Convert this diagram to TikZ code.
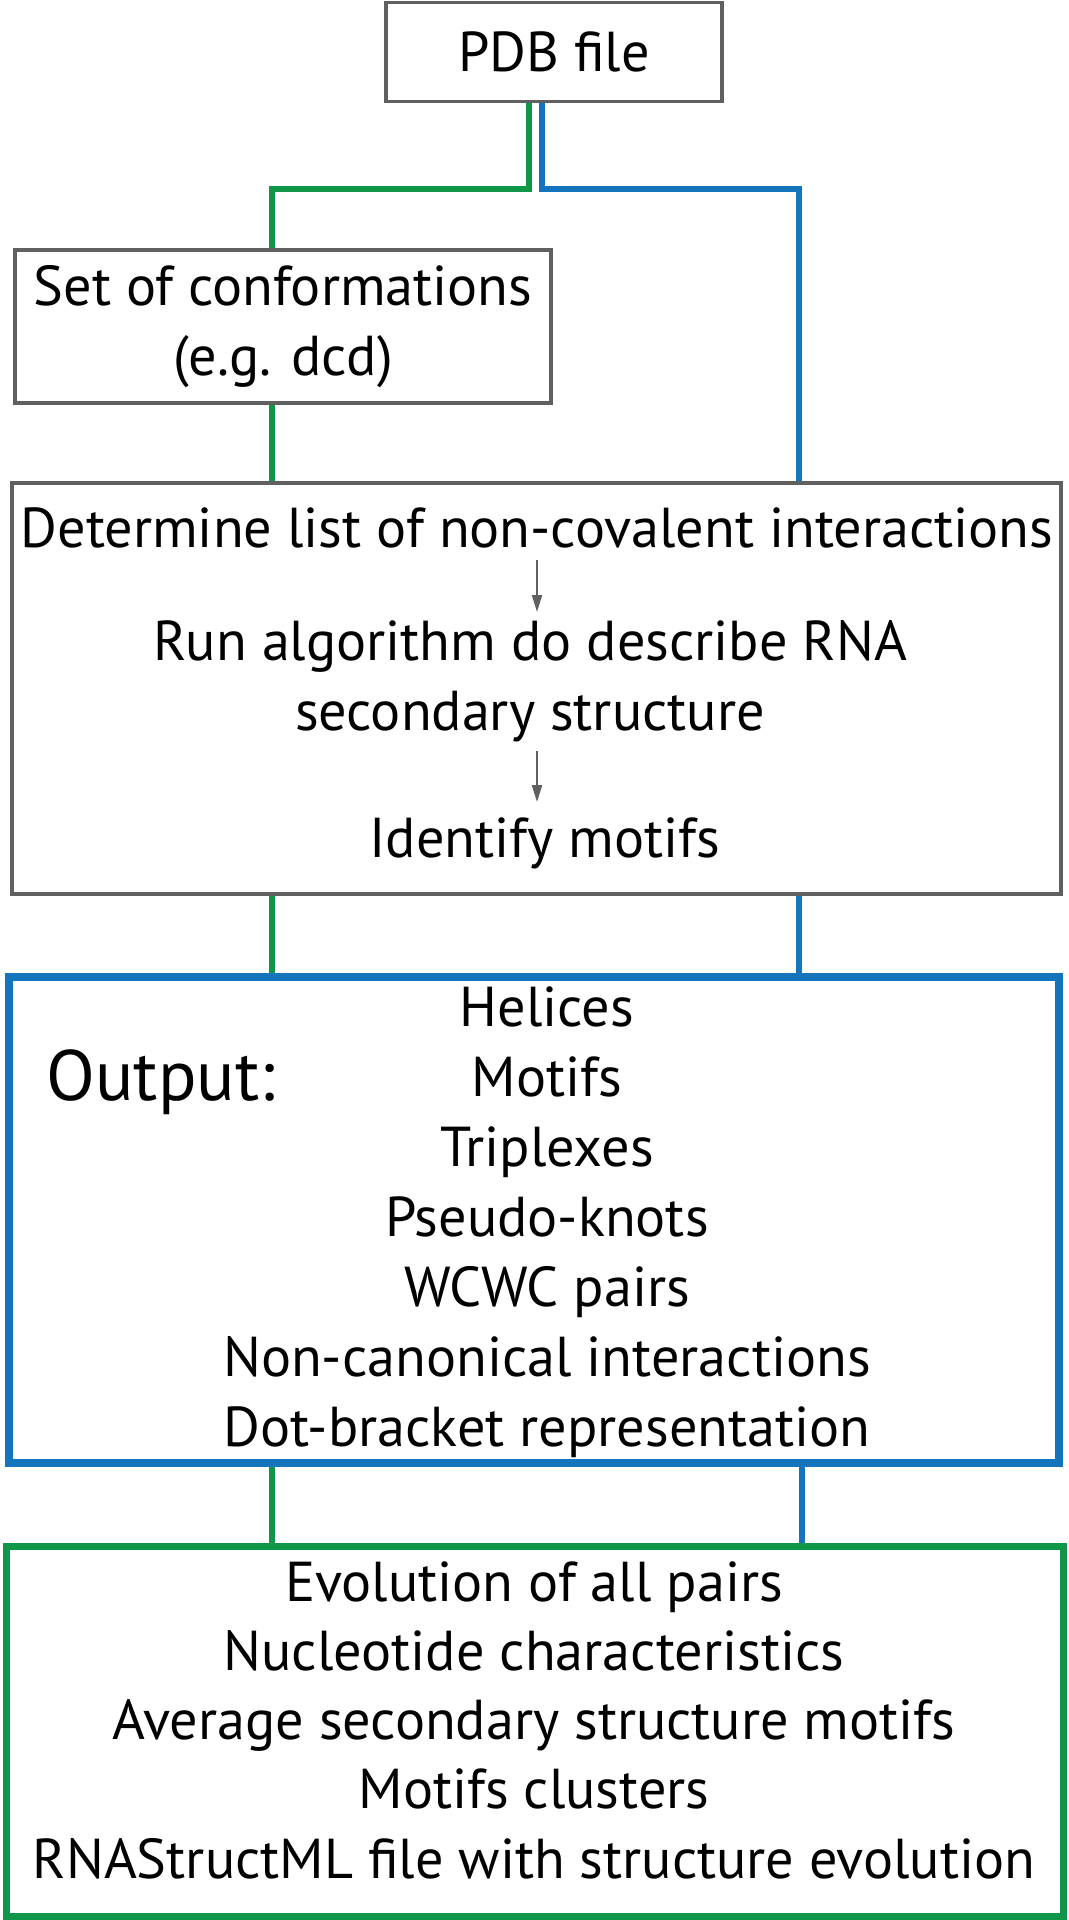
\documentclass[tikz,border=0pt]{standalone}
\usepackage{fontspec}
\setmainfont{PT Sans}
\usepackage{tikz}
\usetikzlibrary{positioning, arrows.meta}
\definecolor{flowgreen}{RGB}{16,150,72}
\definecolor{flowblue}{RGB}{20,116,188}
\definecolor{boxgray}{RGB}{96,96,96}
\newcommand{\BoxFont}{\fontsize{16}{19.84}\selectfont}
\newcommand{\ListFont}{\fontsize{16}{19.7}\selectfont}
\tikzset{
    graybox/.style={draw=boxgray, line width=1.1pt, inner sep=0pt, align=center, font=\BoxFont},
    bluebox/.style={draw=flowblue, line width=2.3pt, inner sep=0pt},
    greenbox/.style={draw=flowgreen, line width=2pt, inner sep=0pt},
    steptext/.style={inner sep=0pt, align=center, anchor=base, font=\BoxFont},
    outlabel/.style={inner sep=0pt, anchor=base west, font=\fontsize{20.3}{24}\selectfont},
    steparrow/.style={boxgray, line width=0.6pt, -{Triangle[length=0.17cm, width=0.1cm]}},
    greenline/.style={flowgreen, line width=1.7pt},
    blueline/.style={flowblue, line width=1.7pt}
}
\begin{document}
\begin{tikzpicture}
        \useasboundingbox (0,0) rectangle (10.68,-19.2);
        % boxes
        \node[graybox, minimum width=3.36cm, minimum height=0.99cm] (pdb) at (5.54,-0.52) {PDB file};
        \node[graybox, minimum width=5.36cm, minimum height=1.53cm] (conf) at (2.83,-3.265) {Set of conformations\\(e.g. dcd)};
        \node[graybox, minimum width=10.49cm, minimum height=4.11cm] (steps) at (5.365,-6.885) {};
        \node[bluebox, minimum width=10.50cm, minimum height=4.86cm] (output) at (5.34,-12.2) {};
        \node[greenbox, minimum width=10.57cm, minimum height=3.70cm] (results) at (5.35,-17.315) {};
        % steps of the analysis (base = last line)
        \node[steptext] (determine) at (5.37,-5.48) {Determine list of non-covalent interactions};
        \node[steptext] (algorithm) at (5.30,-7.30) {Run algorithm do describe RNA\\secondary structure};
        \node[steptext] (motifs) at (5.45,-8.57) {Identify motifs};
        \draw[steparrow] ([yshift=-0.12cm]determine.base) -- ++(0,-0.52);
        \draw[steparrow] ([yshift=-0.21cm]determine.base |- algorithm.base) -- ++(0,-0.51);
        % output list
        \node[outlabel] (outname) at (0.46,-11.0) {Output:};
        \foreach \i/\txt in {0/Helices, 1/Motifs, 2/Triplexes, 3/Pseudo-knots, 4/WCWC pairs,
                5/Non-canonical interactions, 6/Dot-bracket representation}
        \node[steptext] (out\i) at (5.47,-10.26-0.70*\i) {\txt};
        % results of the trajectory
        \node[steptext, font=\ListFont] (evolution) at (5.34,-18.78) {Evolution of all pairs\\Nucleotide characteristics\\Average secondary structure motifs\\Motifs clusters\\RNAStructML file with structure evolution};
        % connectors
        \coordinate (gsplit) at (2.72,-1.89);
        \coordinate (bsplit) at (7.99,-1.89);
        \draw[greenline] ([xshift=-0.25cm]pdb.south) |- (gsplit) -- (gsplit |- conf.north);
        \draw[blueline] ([xshift=-0.12cm]pdb.south) |- (bsplit) -- (bsplit |- steps.north);
        \draw[greenline] (gsplit |- conf.south) -- (gsplit |- steps.north);
        \draw[greenline] (gsplit |- steps.south) -- (gsplit |- output.north);
        \draw[blueline] (bsplit |- steps.south) -- (bsplit |- output.north);
        \draw[greenline] (gsplit |- output.south) -- (gsplit |- results.north);
        \draw[blueline] ([xshift=0.03cm]bsplit |- output.south) -- ([xshift=0.03cm]bsplit |- results.north);
\end{tikzpicture}
\end{document}
